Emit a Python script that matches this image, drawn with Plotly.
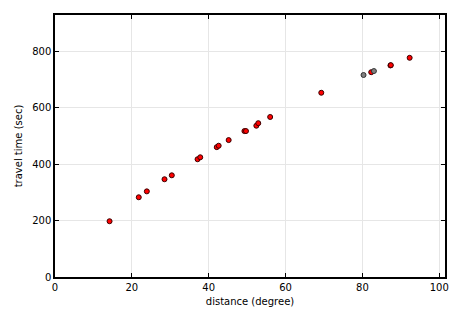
import plotly.graph_objects as go

red_dist = [14.2, 21.8, 23.9, 28.5, 30.4, 37.1, 37.8, 42.1, 42.6, 45.2, 49.3, 49.7,
            52.4, 52.9, 56.0, 69.3, 82.3, 87.3, 87.4, 92.3]
red_time = [198, 283, 304, 347, 361, 418, 425, 461, 466, 486, 518, 518,
            537, 546, 568, 654, 727, 751, 752, 778]
grey_dist = [80.3, 83.0]
grey_time = [717, 731]

x_ticks = [0, 20, 40, 60, 80, 100]
y_ticks = [0, 200, 400, 600, 800]

fig = go.Figure()
fig.add_trace(go.Scatter(x=red_dist, y=red_time, mode="markers",
                         marker=dict(color="#ff0000", size=5,
                                     line=dict(color="#3a0000", width=1)),
                         showlegend=False))
fig.add_trace(go.Scatter(x=grey_dist, y=grey_time, mode="markers",
                         marker=dict(color="#808080", size=5,
                                     line=dict(color="#333333", width=1)),
                         showlegend=False))

axis_common = dict(showline=True, linecolor="black", linewidth=1.5, mirror="ticks",
                   ticks="inside", ticklen=4, tickcolor="black", tickwidth=1,
                   showgrid=True, gridcolor="#e6e6e6", gridwidth=1, zeroline=False,
                   automargin=False,
                   tickfont=dict(family="DejaVu Sans", size=10, color="black"))

fig.update_layout(
    width=465, height=315,
    margin=dict(l=55, r=20, t=15, b=38),
    plot_bgcolor="white", paper_bgcolor="white",
    font=dict(family="DejaVu Sans", size=10, color="black"),
    xaxis=dict(range=[0, 101.5], tickvals=x_ticks,
               title=dict(text="distance (degree)", font=dict(size=10), standoff=6),
               **axis_common),
    yaxis=dict(range=[0, 930], tickvals=y_ticks,
               title=dict(text="travel time (sec)", font=dict(size=10), standoff=8),
               **axis_common),
)
fig.write_html("out.html")
